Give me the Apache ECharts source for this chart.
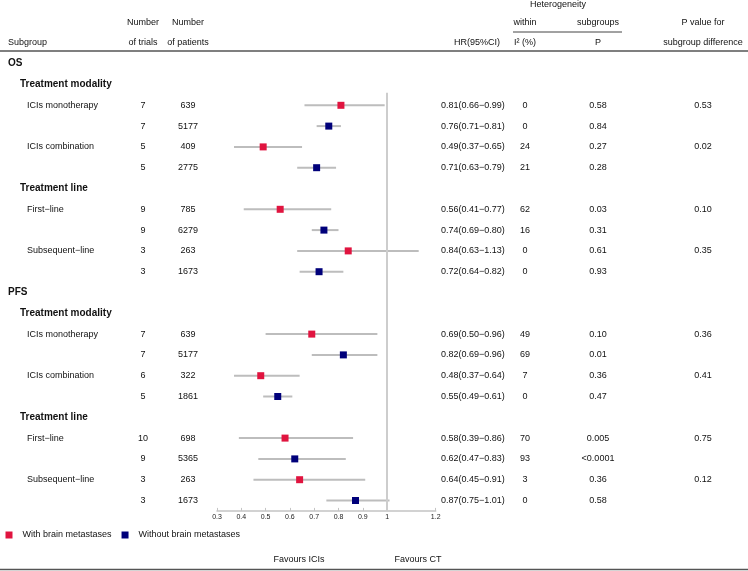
<!DOCTYPE html>
<html><head><meta charset="utf-8">
<script src="https://cdn.jsdelivr.net/npm/echarts@6/dist/echarts.min.js"></script>
<style>html,body{margin:0;padding:0;background:#fff}#c{width:748px;height:571px}</style>
</head><body><div id="c"></div>
<script>
// ---- data (one entry per table row, top to bottom) ----
const rowLabels = ['OS','Treatment modality','ICIs monotherapy','','ICIs combination','','Treatment line','First\u2212line','','Subsequent\u2212line','',
                   'PFS','Treatment modality','ICIs monotherapy','','ICIs combination','','Treatment line','First\u2212line','','Subsequent\u2212line',''];
const rowLevels = [0,1,2,2,2,2,1,2,2,2,2, 0,1,2,2,2,2,1,2,2,2,2];
const trials   = [null,null,7,7,5,5,null,9,9,3,3, null,null,7,7,6,5,null,10,9,3,3];
const patients = [null,null,639,5177,409,2775,null,785,6279,263,1673, null,null,639,5177,322,1861,null,698,5365,263,1673];
const hr     = [null,null,0.81,0.76,0.49,0.71,null,0.56,0.74,0.84,0.72, null,null,0.69,0.82,0.48,0.55,null,0.58,0.62,0.64,0.87];
const ciLow  = [null,null,0.66,0.71,0.37,0.63,null,0.41,0.69,0.63,0.64, null,null,0.50,0.69,0.37,0.49,null,0.39,0.47,0.45,0.75];
const ciHigh = [null,null,0.99,0.81,0.65,0.79,null,0.77,0.80,1.13,0.82, null,null,0.96,0.96,0.64,0.61,null,0.86,0.83,0.91,1.01];
const i2     = [null,null,0,0,24,21,null,62,16,0,0, null,null,49,69,7,0,null,70,93,3,0];
const pHet   = ['','','0.58','0.84','0.27','0.28','','0.03','0.31','0.61','0.93', '','','0.10','0.01','0.36','0.47','','0.005','<0.0001','0.36','0.58'];
const pDiff  = ['','','0.53','','0.02','','','0.10','','0.35','', '','','0.36','','0.41','','','0.75','','0.12',''];
const groupOf = [null,null,0,1,0,1,null,0,1,0,1, null,null,0,1,0,1,null,0,1,0,1];
const groupNames = ['With brain metastases','Without brain metastases'];
const groupColors = ['#E0143F','#00007A'];
const tickValues = [0.3,0.4,0.5,0.6,0.7,0.8,0.9,1,1.2];
const refValue = 1;

// ---- layout / style ----
const FONT = '"Liberation Sans", Arial, sans-serif';
const COL = {trials:143, patients:188, hr:441, i2:525, p:598, pd:703};
const nRows = rowLabels.length;

const chart = echarts.init(document.getElementById('c'), null, {renderer:'canvas'});

function hrString(i){ return hr[i].toFixed(2)+'('+ciLow[i].toFixed(2)+'\u2212'+ciHigh[i].toFixed(2)+')'; }

function txt(text, x, y, align, opts){
  opts = opts || {};
  return {type:'text', x:x, y:y, silent:true,
    style:{text:String(text), x:0, y:0, fill:opts.fill||'#111',
      font:(opts.bold?'bold ':'')+(opts.size||9)+'px '+FONT,
      textAlign:align, textVerticalAlign:'middle', align:align, verticalAlign:'middle'}};
}

const rowIdx = rowLabels.map((_, i) => i);
const ciData = rowIdx.filter(i => hr[i] != null).map(i => [ciLow[i], ciHigh[i], i]);

const scatterSeries = groupNames.map((name, g) => ({
  name: name, type:'scatter', symbol:'rect', symbolSize:7, z:5,
  itemStyle:{color:groupColors[g], opacity:1},
  data: rowIdx.filter(i => groupOf[i] === g).map(i => [hr[i], i]),
  emphasis:{disabled:true}
}));

const option = {
  animation:false,
  backgroundColor:'#fff',
  grid:{left:217, width:218.7, top:53.3, height:457.6},
  xAxis:{type:'value', min:0.3, max:1.2, position:'bottom',
    axisLine:{show:true, onZero:false, lineStyle:{color:'#c4c4c4', width:1.5}},
    axisTick:{show:true, inside:true, length:3, customValues:tickValues, lineStyle:{color:'#c4c4c4', width:1}},
    axisLabel:{customValues:tickValues, fontSize:7, color:'#222', margin:3, fontFamily:FONT,
      formatter: v => String(v)},
    splitLine:{show:false}},
  yAxis:{type:'value', inverse:true, min:-0.5, max:nRows-0.5, show:false},
  legend:{data:groupNames, left:5.5, top:530.5, padding:0, itemGap:10, itemWidth:17, itemHeight:7,
    icon:'path://M0 0H10V10H0Z', selectedMode:false,
    textStyle:{fontSize:9, color:'#111', fontFamily:FONT}},
  series:[
    {type:'custom', name:'ci', z:2, silent:true, data:ciData, encode:{x:[0,1], y:2},
      renderItem:(params, api) => {
        const a = api.coord([api.value(0), api.value(2)]);
        const b = api.coord([api.value(1), api.value(2)]);
        return {type:'line', shape:{x1:a[0], y1:a[1], x2:b[0], y2:b[1]},
          style:{stroke:'#bdbdbd', lineWidth:2}};
      },
      markLine:{silent:true, symbol:'none', label:{show:false}, animation:false,
        lineStyle:{color:'#cdcdcd', width:2, type:'solid'},
        data:[[{coord:[refValue, 1.4]},{coord:[refValue, nRows-0.5]}]]}
    },
    ...scatterSeries,
    {type:'custom', name:'table', silent:true, clip:false, z:1,
      data: rowIdx.map(i => [1, i]), encode:{x:0, y:1},
      renderItem:(params, api) => {
        const i = api.value(1);
        const y = api.coord([1, i])[1];
        const kids = [];
        const lvl = rowLevels[i];
        if (rowLabels[i]) {
          const x = lvl === 0 ? 8 : (lvl === 1 ? 20 : 27);
          kids.push(txt(rowLabels[i], x, y, 'left', {bold: lvl < 2, size: lvl < 2 ? 10 : 9}));
        }
        if (trials[i] != null) kids.push(txt(trials[i], COL.trials, y, 'center'));
        if (patients[i] != null) kids.push(txt(patients[i], COL.patients, y, 'center'));
        if (hr[i] != null) kids.push(txt(hrString(i), COL.hr, y, 'left'));
        if (i2[i] != null) kids.push(txt(i2[i], COL.i2, y, 'center'));
        if (pHet[i]) kids.push(txt(pHet[i], COL.p, y, 'center'));
        if (pDiff[i]) kids.push(txt(pDiff[i], COL.pd, y, 'center'));
        return {type:'group', children:kids};
      }
    }
  ],
  graphic:[
    txt('Heterogeneity', 558, 5, 'center'),
    txt('Number', COL.trials, 23, 'center'),
    txt('Number', COL.patients, 23, 'center'),
    txt('within', COL.i2, 23, 'center'),
    txt('subgroups', COL.p, 23, 'center'),
    txt('P value for', COL.pd, 23, 'center'),
    {type:'line', silent:true, shape:{x1:513, y1:32, x2:622, y2:32}, style:{stroke:'#444', lineWidth:1}},
    txt('Subgroup', 8, 43, 'left'),
    txt('of trials', COL.trials, 43, 'center'),
    txt('of patients', COL.patients, 43, 'center'),
    txt('HR(95%CI)', 477, 43, 'center'),
    txt('I\u00B2 (%)', COL.i2, 43, 'center'),
    txt('P', COL.p, 43, 'center'),
    txt('subgroup difference', COL.pd, 43, 'center'),
    {type:'line', silent:true, shape:{x1:0, y1:51, x2:748, y2:51}, style:{stroke:'#555', lineWidth:1.5}},
    txt('Favours ICIs', 299, 560, 'center'),
    txt('Favours CT', 418, 560, 'center'),
    {type:'line', silent:true, shape:{x1:0, y1:569.5, x2:748, y2:569.5}, style:{stroke:'#555', lineWidth:1.5}}
  ]
};
chart.setOption(option);
</script></body></html>
